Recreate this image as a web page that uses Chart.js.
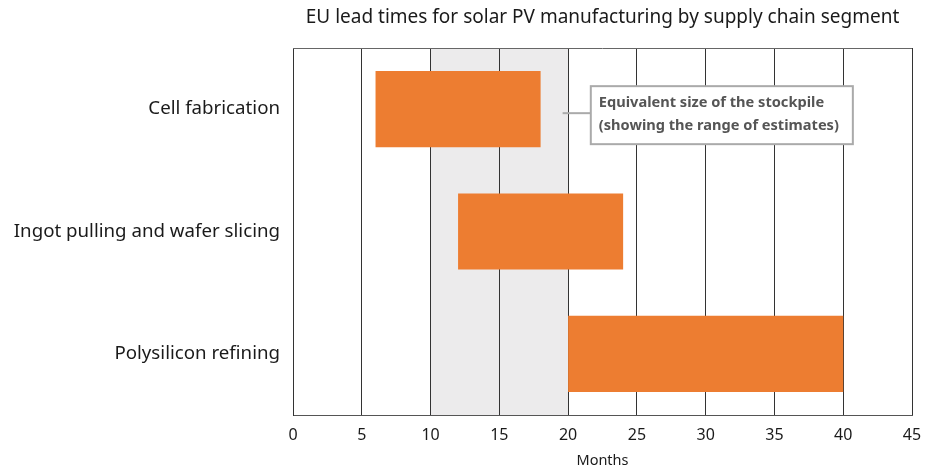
<!DOCTYPE html>
<html>
<head>
<meta charset="utf-8">
<script src="https://cdn.jsdelivr.net/npm/chart.js@4/dist/chart.umd.min.js"></script>
<style>
  html, body { margin: 0; padding: 0; background: #fff; }
  #wrap { width: 930px; height: 472px; }
</style>
</head>
<body>
<div id="wrap"><canvas id="leadChart" width="930" height="472"></canvas></div>
<script>
const categories = ['Cell fabrication', 'Ingot pulling and wafer slicing', 'Polysilicon refining'];
const startMonths = [6, 12, 20];
const endMonths = [18, 24, 40];
const stockpileRange = [10, 20];
const chartTitle = 'EU lead times for solar PV manufacturing by supply chain segment';
const noteLines = ['Equivalent size of the stockpile', '(showing the range of estimates)'];

const FONT = '"Noto Sans", sans-serif';

// grey band behind the bars, top border and the title over the plot
const bandPlugin = {
    id: 'band',
    beforeDraw(chart) {
        const { ctx, chartArea, scales } = chart;
        const x1 = scales.x.getPixelForValue(stockpileRange[0]);
        const x2 = scales.x.getPixelForValue(stockpileRange[1]);
        ctx.save();
        ctx.fillStyle = '#ecebec';
        ctx.fillRect(x1, chartArea.top, x2 - x1, chartArea.bottom - chartArea.top);
        ctx.fillStyle = '#1a1a1a';
        ctx.font = '19px ' + FONT;
        ctx.textAlign = 'center';
        ctx.textBaseline = 'middle';
        ctx.fillText(chartTitle, (chartArea.left + chartArea.right) / 2, 18);
        ctx.restore();
    },
    beforeDatasetsDraw(chart) {
        const { ctx, chartArea } = chart;
        ctx.save();
        ctx.strokeStyle = '#666';
        ctx.lineWidth = 1;
        ctx.beginPath();
        ctx.moveTo(chartArea.left, chartArea.top + 0.5);
        ctx.lineTo(chartArea.right, chartArea.top + 0.5);
        ctx.stroke();
        ctx.restore();
    }
};

// callout box next to the band
const notePlugin = {
    id: 'note',
    afterDraw(chart) {
        const { ctx, scales } = chart;
        const yMid = scales.y.getPixelForValue(0);
        const lineX = scales.x.getPixelForValue(19.6);
        const boxX = scales.x.getPixelForValue(21.65);
        const boxR = scales.x.getPixelForValue(40.7);
        const boxY = yMid - 23;
        const boxH = 58;
        ctx.save();
        ctx.strokeStyle = '#aaa';
        ctx.lineWidth = 2;
        ctx.beginPath();
        ctx.moveTo(lineX, yMid + 4);
        ctx.lineTo(boxX, yMid + 4);
        ctx.stroke();
        ctx.fillStyle = '#fff';
        ctx.fillRect(boxX, boxY, boxR - boxX, boxH);
        ctx.strokeRect(boxX, boxY, boxR - boxX, boxH);
        ctx.fillStyle = '#555';
        ctx.font = 'bold 14.6px ' + FONT;
        ctx.textBaseline = 'middle';
        ctx.fillText(noteLines[0], boxX + 8, boxY + 17);
        ctx.fillText(noteLines[1], boxX + 8, boxY + 40);
        ctx.restore();
    }
};

const ctx = document.getElementById('leadChart').getContext('2d');
new Chart(ctx, {
    type: 'bar',
    data: {
        labels: categories,
        datasets: [{
            data: startMonths.map((s, i) => [s, endMonths[i]]),
            backgroundColor: '#ed7d31',
            borderWidth: 0,
            barPercentage: 0.622,
            categoryPercentage: 1
        }]
    },
    options: {
        indexAxis: 'y',
        responsive: false,
        animation: false,
        layout: { padding: { top: 48, right: 18, bottom: 0 } },
        plugins: {
            legend: { display: false },
            tooltip: { enabled: false },
            title: { display: false }
        },
        scales: {
            x: {
                min: 0,
                max: 45,
                afterFit(scale) {
                    scale.height = 57;
                    scale.paddingLeft = 0;
                    scale.paddingRight = 0;
                },
                ticks: { stepSize: 5, color: '#1a1a1a', padding: 11, font: { family: FONT, size: 16 } },
                grid: { color: '#333', lineWidth: 1, drawTicks: false },
                border: { color: '#555', width: 1 },
                title: {
                    display: true,
                    text: 'Months',
                    color: '#1a1a1a',
                    font: { family: FONT, size: 14.5 },
                    padding: { top: 8, bottom: 2 }
                }
            },
            y: {
                afterFit(scale) { scale.width = 293; },
                ticks: { color: '#1a1a1a', padding: 13, font: { family: FONT, size: 18.7 } },
                grid: { display: false, drawTicks: false },
                border: { color: '#333', width: 1 }
            }
        }
    },
    plugins: [bandPlugin, notePlugin]
});
</script>
</body>
</html>
